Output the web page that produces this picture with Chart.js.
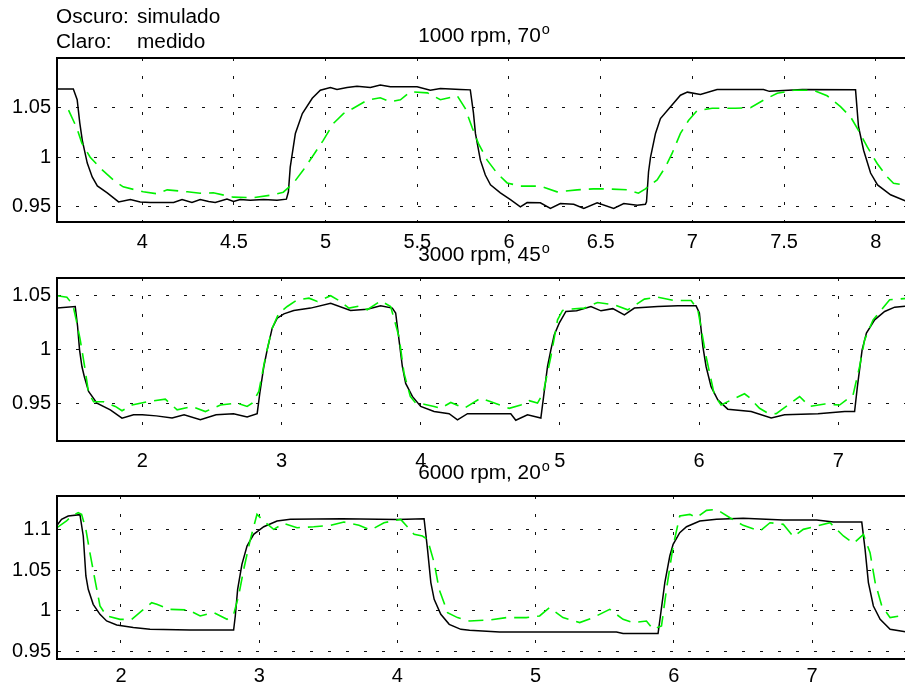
<!DOCTYPE html>
<html>
<head>
<meta charset="utf-8">
<script src="https://cdn.jsdelivr.net/npm/chart.js@4.4.0/dist/chart.umd.min.js"></script>
<style>
  html, body { margin: 0; padding: 0; background: #fff; overflow: hidden; }
  body { width: 905px; height: 688px; position: relative; }
  canvas { position: absolute; left: 0; }
</style>
</head>
<body>
<canvas id="c1" width="912" height="260" style="top:0px"></canvas>
<canvas id="c2" width="912" height="250" style="top:230px"></canvas>
<canvas id="c3" width="912" height="238" style="top:450px"></canvas>
<script>
const legendLines = [['Oscuro:', 'simulado'], ['Claro:', 'medido']];
const titles = ['1000 rpm, 70º', '3000 rpm, 45º', '6000 rpm, 20º'];

// panel 1 - 1000 rpm
const p1XTicks = [4, 4.5, 5, 5.5, 6, 6.5, 7, 7.5, 8];
const p1YTicks = [0.95, 1, 1.05];
const p1SimX = [3.535, 3.624, 3.645, 3.659, 3.673, 3.700, 3.727, 3.755, 3.809, 3.871, 3.935, 3.989, 4.044, 4.171, 4.217, 4.271, 4.316, 4.362, 4.398, 4.462, 4.498, 4.534, 4.589, 4.662, 4.735, 4.786,
  4.797, 4.807, 4.835, 4.873, 4.927, 4.971, 5.026, 5.062, 5.117, 5.171, 5.244, 5.298, 5.353, 5.499, 5.571, 5.626, 5.735, 5.789,
  5.806, 5.817, 5.844, 5.871, 5.899, 5.953, 6.008, 6.062, 6.099, 6.171, 6.226, 6.280, 6.353, 6.408, 6.481, 6.571, 6.626, 6.699, 6.744,
  6.750, 6.761, 6.772, 6.799, 6.826, 6.881, 6.935, 6.973, 7.044, 7.135, 7.388, 7.420, 7.600, 7.890,
  7.906, 7.934, 7.972, 8.010, 8.081, 8.187];
const p1SimY = [1.069, 1.069, 1.058, 1.035, 1.017, 0.994, 0.980, 0.971, 0.964, 0.9548, 0.9573, 0.9548, 0.9542, 0.9542, 0.9573, 0.9542, 0.9573, 0.9552, 0.9542, 0.9576, 0.9552, 0.9573, 0.9566, 0.9573, 0.9566, 0.9576,
  0.965, 0.990, 1.024, 1.044, 1.0595, 1.0677, 1.0704, 1.0684, 1.0704, 1.0717, 1.0704, 1.0728, 1.0711, 1.0711, 1.0677, 1.0694, 1.0684, 1.068,
  1.045, 1.024, 0.997, 0.982, 0.972, 0.964, 0.957, 0.9498, 0.9542, 0.9539, 0.9482, 0.9532, 0.9525, 0.9482, 0.9539, 0.9482, 0.9532, 0.9515, 0.9525,
  0.955, 0.985, 1.000, 1.024, 1.039, 1.051, 1.0626, 1.0657, 1.0634, 1.0684, 1.0684, 1.0665, 1.0684, 1.068,
  1.031, 1.007, 0.984, 0.972, 0.962, 0.954];
const p1MedX = [3.598, 3.644, 3.671, 3.716, 3.771, 3.842, 3.896, 4.005, 4.080, 4.136, 4.246, 4.316, 4.387, 4.496, 4.606, 4.715, 4.769,
  4.824, 4.878, 4.933, 4.987, 5.042, 5.097, 5.151, 5.227, 5.298, 5.353, 5.408, 5.462, 5.555, 5.626, 5.697, 5.718,
  5.762, 5.799, 5.833, 5.881, 5.935, 5.990, 6.062, 6.171, 6.262, 6.372, 6.460, 6.535, 6.644, 6.706, 6.744,
  6.808, 6.853, 6.890, 6.935, 6.979, 7.026, 7.108, 7.235, 7.317, 7.388, 7.463, 7.553, 7.661, 7.735,
  7.808, 7.863, 7.906, 7.954, 8.008, 8.063, 8.097, 8.187];
const p1MedY = [1.0475, 1.029, 1.014, 1.000, 0.989, 0.977, 0.970, 0.965, 0.963, 0.967, 0.965, 0.9636, 0.964, 0.9596, 0.959, 0.962, 0.9646,
  0.9737, 0.987, 1.002, 1.017, 1.034, 1.044, 1.0495, 1.0576, 1.060, 1.056, 1.058, 1.066, 1.065, 1.058, 1.061, 1.062,
  1.049, 1.030, 1.014, 0.997, 0.9838, 0.974, 0.9707, 0.9707, 0.965, 0.967, 0.968, 0.968, 0.967, 0.9636, 0.968,
  0.977, 0.990, 1.004, 1.024, 1.037, 1.047, 1.0495, 1.0495, 1.050, 1.0576, 1.0646, 1.0676, 1.0676, 1.062,
  1.051, 1.0407, 1.027, 1.0104, 0.9936, 0.980, 0.9737, 0.971];

// panel 2 - 3000 rpm
const p2XTicks = [2, 3, 4, 5, 6, 7];
const p2YTicks = [0.95, 1, 1.05];
const p2SimX = [1.387, 1.518, 1.535, 1.549, 1.566, 1.583, 1.614, 1.674, 1.770, 1.854, 1.937, 2.0, 2.10, 2.214, 2.30, 2.417, 2.53, 2.655, 2.753, 2.825,
  2.844, 2.873, 2.897, 2.933, 2.969, 3.017, 3.088, 3.209, 3.353, 3.496, 3.616, 3.712, 3.796,
  3.82, 3.844, 3.868, 3.892, 3.940, 4.0, 4.096, 4.204, 4.264, 4.336, 4.50, 4.647, 4.683, 4.767, 4.863,
  4.883, 4.911, 4.935, 4.959, 4.995, 5.043, 5.12, 5.223, 5.295, 5.38, 5.463, 5.535, 5.703, 5.847, 5.978,
  6.002, 6.027, 6.050, 6.086, 6.134, 6.206, 6.374, 6.518, 6.614, 6.854, 7.046, 7.117,
  7.137, 7.171, 7.202, 7.261, 7.333, 7.405, 7.515];
const p2SimY = [1.0385, 1.040, 1.0215, 1.000, 0.9846, 0.9754, 0.9615, 0.9508, 0.9446, 0.9369, 0.940, 0.940, 0.939, 0.937, 0.940, 0.9354, 0.940, 0.941, 0.938, 0.941,
  0.960, 0.9846, 1.000, 1.020, 1.0292, 1.0332, 1.0363, 1.0385, 1.043, 1.0363, 1.0375, 1.0406, 1.0385,
  1.034, 1.0092, 0.9846, 0.969, 0.957, 0.9477, 0.943, 0.941, 0.9354, 0.941, 0.941, 0.941, 0.935, 0.940, 0.937,
  0.957, 0.9846, 1.000, 1.0138, 1.0246, 1.0354, 1.036, 1.040, 1.036, 1.038, 1.0323, 1.0385, 1.040, 1.0406, 1.0406,
  1.034, 1.003, 0.9846, 0.966, 0.9538, 0.9452, 0.943, 0.937, 0.940, 0.941, 0.943, 0.943,
  0.966, 1.000, 1.0154, 1.0277, 1.0354, 1.0394, 1.0406];
const p2MedX = [1.387, 1.458, 1.501, 1.525, 1.554, 1.585, 1.614, 1.650, 1.722, 1.806, 1.854, 1.926, 2.034, 2.165, 2.25, 2.357, 2.453, 2.561, 2.681, 2.753, 2.789,
  2.837, 2.885, 2.933, 2.981, 3.041, 3.113, 3.197, 3.257, 3.353, 3.42, 3.484, 3.568, 3.616, 3.712, 3.784,
  3.844, 3.880, 3.925, 3.964, 4.024, 4.096, 4.144, 4.216, 4.312, 4.432, 4.504, 4.636, 4.719, 4.779, 4.839,
  4.88, 4.935, 4.983, 5.019, 5.067, 5.175, 5.271, 5.391, 5.487, 5.607, 5.703, 5.823, 5.943, 5.991,
  6.05, 6.110, 6.158, 6.242, 6.326, 6.36, 6.434, 6.494, 6.554, 6.638, 6.722, 6.794, 6.902, 7.009, 7.106,
  7.153, 7.189, 7.250, 7.309, 7.369, 7.515];
const p2MedY = [1.0499, 1.0486, 1.0415, 1.0277, 1.0092, 0.985, 0.960, 0.952, 0.952, 0.9477, 0.9437, 0.949, 0.952, 0.9544, 0.9446, 0.9477, 0.943, 0.949, 0.9508, 0.9477, 0.9508,
  0.9615, 0.9938, 1.020, 1.0339, 1.040, 1.0462, 1.0477, 1.0446, 1.0499, 1.045, 1.0385, 1.0406, 1.037, 1.0452, 1.040,
  1.012, 0.9785, 0.957, 0.9508, 0.9498, 0.9477, 0.946, 0.9514, 0.946, 0.9554, 0.952, 0.946, 0.949, 0.953, 0.9508,
  0.960, 0.9938, 1.0277, 1.0363, 1.0375, 1.0385, 1.0437, 1.0415, 1.0369, 1.0468, 1.0486, 1.0455, 1.0455, 1.0369,
  0.9938, 0.958, 0.949, 0.9544, 0.9594, 0.956, 0.946, 0.9415, 0.941, 0.949, 0.9569, 0.9477, 0.950, 0.949, 0.9584,
  0.9846, 1.0092, 1.0277, 1.0369, 1.0462, 1.0477];

// panel 3 - 6000 rpm
const p3XTicks = [2, 3, 4, 5, 6, 7];
const p3YTicks = [0.95, 1, 1.05, 1.1];
const p3SimX = [1.537, 1.570, 1.618, 1.703, 1.727, 1.746, 1.763, 1.799, 1.848, 1.896, 1.969, 2.089, 2.210, 2.50, 2.815,
  2.827, 2.844, 2.875, 2.912, 2.960, 3.033, 3.129, 3.226, 3.60, 4.00, 4.193,
  4.218, 4.242, 4.266, 4.314, 4.375, 4.459, 4.522, 4.739, 5.101, 5.585, 5.633, 5.886,
  5.903, 5.935, 5.971, 5.995, 6.043, 6.092, 6.188, 6.309, 6.502, 6.792, 7.034, 7.155, 7.360,
  7.384, 7.408, 7.444, 7.493, 7.565, 7.709];
const p3SimY = [1.1045, 1.1118, 1.1159, 1.1175, 1.0915, 1.0427, 1.0264, 1.0081, 0.9959, 0.9878, 0.9829, 0.9797, 0.9776, 0.9768, 0.9768,
  0.9939, 1.0264, 1.0569, 1.0793, 1.0935, 1.1028, 1.1098, 1.1118, 1.1126, 1.1115, 1.1126,
  1.0752, 1.0346, 1.0142, 0.9959, 0.9837, 0.9776, 0.9764, 0.9744, 0.9744, 0.9744, 0.9724, 0.9724,
  0.9939, 1.0346, 1.0671, 1.0813, 1.0955, 1.1028, 1.1098, 1.1118, 1.113, 1.111, 1.111, 1.1085, 1.1085,
  1.0752, 1.0346, 1.0061, 0.9898, 0.9776, 0.9736];
const p3MedX = [1.537, 1.606, 1.642, 1.690, 1.715, 1.746, 1.775, 1.811, 1.848, 1.896, 1.993, 2.077, 2.150, 2.222, 2.259, 2.356, 2.489, 2.573, 2.670, 2.767, 2.815,
  2.851, 2.888, 2.936, 2.984, 3.033, 3.105, 3.178, 3.274, 3.395, 3.516, 3.613, 3.722, 3.807, 3.903, 4.024, 4.121, 4.181,
  4.218, 4.266, 4.302, 4.363, 4.435, 4.522, 4.667, 4.787, 4.932, 5.029, 5.101, 5.198, 5.319, 5.415, 5.536, 5.633, 5.705, 5.802, 5.850, 5.911,
  5.947, 5.995, 6.043, 6.116, 6.164, 6.237, 6.309, 6.406, 6.502, 6.623, 6.696, 6.792, 6.865, 6.937, 7.034, 7.130, 7.227, 7.300, 7.372,
  7.420, 7.457, 7.505, 7.565, 7.709];
const p3MedY = [1.1016, 1.1098, 1.1159, 1.1199, 1.1179, 1.0996, 1.0711, 1.0386, 1.0061, 0.9939, 0.9898, 0.9898, 1.000, 1.0102, 1.0081, 1.002, 1.0012, 0.9939, 0.998, 0.9898, 0.9959,
  1.0183, 1.0508, 1.0874, 1.1179, 1.1098, 1.0996, 1.1069, 1.1016, 1.1028, 1.1045, 1.1085, 1.1045, 1.0988, 1.1077, 1.1118, 1.0935, 1.0915,
  1.0874, 1.0589, 1.0264, 0.998, 0.9919, 0.9878, 0.989, 0.9919, 0.9919, 0.9939, 1.0041, 0.9919, 0.9858, 0.9919, 1.002, 0.9898, 0.9858, 0.9878, 0.9776, 0.9817,
  1.0264, 1.0793, 1.1159, 1.1179, 1.1138, 1.1228, 1.124, 1.1138, 1.1045, 1.0976, 1.1077, 1.1057, 1.0907, 1.0996, 1.1037, 1.1077, 1.0915, 1.0825, 1.0935,
  1.0711, 1.0346, 1.0061, 0.9919, 0.9959];

const FONT = '"Liberation Sans", Arial, Helvetica, sans-serif';
const STRETCH = 1.04;

function toPoints(xs, ys) {
  return xs.map((x, i) => ({ x: x, y: ys[i] }));
}

function stretchedText(ctx, str, x, y) {
  ctx.save();
  ctx.translate(x, y);
  ctx.scale(STRETCH, 1);
  ctx.fillText(str, 0, 0);
  ctx.restore();
}

const framePlugin = {
  id: 'frame',
  afterDatasetsDraw(chart) {
    const a = chart.chartArea, ctx = chart.ctx;
    ctx.save();
    ctx.strokeStyle = '#000';
    ctx.lineWidth = 2;
    ctx.strokeRect(a.left, a.top, a.right - a.left, a.bottom - a.top);
    ctx.restore();
  }
};

const textPlugin = {
  id: 'panelText',
  afterDraw(chart, args, o) {
    const ctx = chart.ctx, a = chart.chartArea;
    ctx.save();
    ctx.fillStyle = '#000';
    ctx.textBaseline = 'alphabetic';
    ctx.textAlign = 'left';
    // title, trailing º drawn as a raised small o
    const main = o.title.replace('º', '');
    ctx.font = '20px ' + FONT;
    const wMain = ctx.measureText(main).width * STRETCH;
    ctx.font = '14px ' + FONT;
    const wSup = ctx.measureText('o').width * STRETCH;
    const x0 = (a.left + a.right) / 2 - (wMain + wSup) / 2;
    ctx.font = '20px ' + FONT;
    stretchedText(ctx, main, x0, o.titleY);
    ctx.font = '14px ' + FONT;
    stretchedText(ctx, 'o', x0 + wMain + 1, o.titleY - 8);
    if (o.legend) {
      ctx.font = '20px ' + FONT;
      o.legend.forEach((ln, i) => {
        stretchedText(ctx, ln[0], 56, 23 + i * 25);
        stretchedText(ctx, ln[1], 137, 23 + i * 25);
      });
    }
    ctx.restore();
  }
};

function makePanel(id, p) {
  const tickFont = { family: FONT, size: 20 };
  return new Chart(document.getElementById(id), {
    type: 'line',
    data: {
      datasets: [
        { label: 'medido', data: toPoints(p.medX, p.medY), borderColor: '#00f000', borderWidth: 1.6,
          borderDash: [15, 8], pointRadius: 0, tension: 0, fill: false },
        { label: 'simulado', data: toPoints(p.simX, p.simY), borderColor: '#000', borderWidth: 1.5,
          pointRadius: 0, tension: 0, fill: false }
      ]
    },
    options: {
      responsive: false,
      animation: false,
      devicePixelRatio: 1,
      layout: { padding: { top: p.top, right: 2, left: 0, bottom: 0 } },
      plugins: {
        legend: { display: false },
        tooltip: { enabled: false },
        panelText: { title: p.title, titleY: p.titleY, legend: p.legend }
      },
      scales: {
        x: {
          type: 'linear', min: p.xMin, max: p.xMax,
          afterBuildTicks: s => { s.ticks = p.xTicks.map(v => ({ value: v })); },
          afterFit: s => { s.height = p.xh; },
          grid: { color: '#111', lineWidth: 1, drawTicks: false },
          border: { display: true, color: '#000', width: 2, dash: [3, 15], dashOffset: 0 },
          ticks: { color: '#000', font: tickFont, padding: p.xPad, maxRotation: 0, autoSkip: false,
                   callback: v => String(v) }
        },
        y: {
          type: 'linear', min: p.yMin, max: p.yMax,
          afterBuildTicks: s => { s.ticks = p.yTicks.map(v => ({ value: v })); },
          afterFit: s => { s.width = 57; },
          grid: { color: '#111', lineWidth: 1, drawTicks: false },
          border: { display: true, color: '#000', width: 2, dash: [3, 15], dashOffset: 0 },
          ticks: { color: '#000', font: tickFont, padding: 6, autoSkip: false,
                   callback: v => String(v) }
        }
      }
    },
    plugins: [framePlugin, textPlugin]
  });
}

makePanel('c1', {
  title: titles[0], titleY: 42, legend: legendLines, top: 58, xh: 38, xPad: 8,
  xMin: 3.535, xMax: 8.187, yMin: 0.9345, yMax: 1.1002, xTicks: p1XTicks, yTicks: p1YTicks,
  simX: p1SimX, simY: p1SimY, medX: p1MedX, medY: p1MedY
});
makePanel('c2', {
  title: titles[1], titleY: 31, top: 48, xh: 39, xPad: 8,
  xMin: 1.387, xMax: 7.515, yMin: 0.9158, yMax: 1.0663, xTicks: p2XTicks, yTicks: p2YTicks,
  simX: p2SimX, simY: p2SimY, medX: p2MedX, medY: p2MedY
});
makePanel('c3', {
  title: titles[2], titleY: 29, top: 46, xh: 29, xPad: 5,
  xMin: 1.537, xMax: 7.709, yMin: 0.9414, yMax: 1.1403, xTicks: p3XTicks, yTicks: p3YTicks,
  simX: p3SimX, simY: p3SimY, medX: p3MedX, medY: p3MedY
});
</script>
</body>
</html>
